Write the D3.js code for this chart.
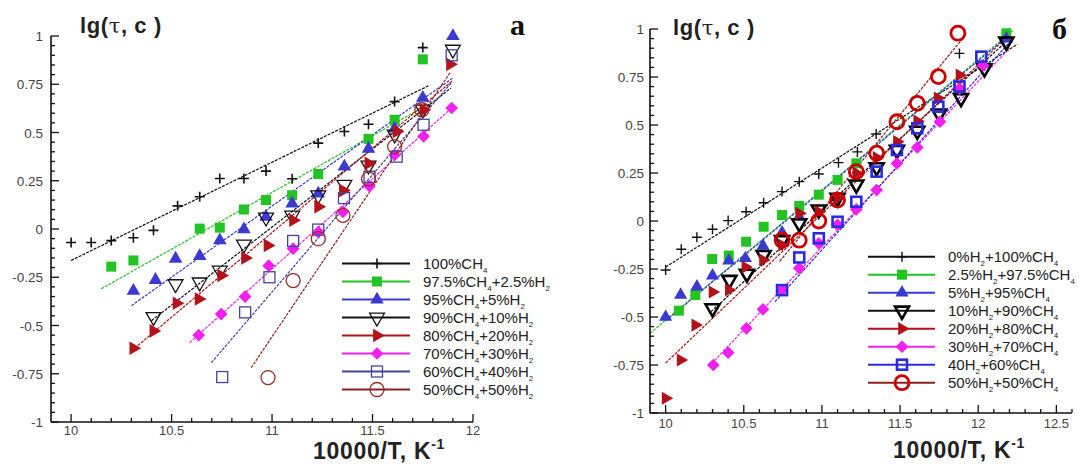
<!DOCTYPE html>
<html><head><meta charset="utf-8">
<script src="https://cdn.jsdelivr.net/npm/d3@7/dist/d3.min.js"></script>
<style>body{margin:0;background:#fff}svg{display:block}</style>
</head><body>
<svg id="c" width="1082" height="464"></svg>
<script>
// ---------- DATA ----------
const yTickValues = [-1, -0.75, -0.5, -0.25, 0, 0.25, 0.5, 0.75, 1];
const yTickLabels = ["-1", "-0.75", "-0.5", "-0.25", "0", "0.25", "0.5", "0.75", "1"];
const xTicksA = [10, 10.5, 11, 11.5, 12];
const xTickLabelsA = ["10", "10.5", "11", "11.5", "12"];
const xTicksB = [10, 10.5, 11, 11.5, 12, 12.5];
const xTickLabelsB = ["10", "10.5", "11", "11.5", "12", "12.5"];

const legendA = ["100%CH₄", "97.5%CH₄+2.5%H₂", "95%CH₄+5%H₂", "90%CH₄+10%H₂",
  "80%CH₄+20%H₂", "70%CH₄+30%H₂", "60%CH₄+40%H₂", "50%CH₄+50%H₂"];
const legendB = ["0%H₂+100%CH₄", "2.5%H₂+97.5%CH₄", "5%H₂+95%CH₄", "10%H₂+90%CH₄",
  "20%H₂+80%CH₄", "30%H₂+70%CH₄", "40H₂+60%CH₄", "50%H₂+50%CH₄"];

// panel а : points [x, y]
const a1 = [[10,-0.07],[10.1,-0.07],[10.2,-0.06],[10.31,-0.045],[10.41,-0.007],[10.53,0.12],[10.64,0.167],[10.74,0.262],[10.86,0.262],[10.97,0.3],[11.1,0.26],[11.23,0.445],[11.36,0.505],[11.48,0.543],[11.61,0.66],[11.75,0.94]];
const a2 = [[10.2,-0.195],[10.31,-0.163],[10.64,0.002],[10.74,0.007],[10.86,0.101],[10.97,0.15],[11.1,0.175],[11.23,0.285],[11.48,0.467],[11.61,0.566],[11.75,0.879]];
const a3 = [[10.31,-0.32],[10.42,-0.264],[10.52,-0.154],[10.64,-0.14],[10.74,-0.059],[10.86,-0.002],[10.97,0.063],[11.1,0.132],[11.23,0.184],[11.36,0.323],[11.48,0.415],[11.61,0.52],[11.75,0.68],[11.9,1.0]];
const a4 = [[10.41,-0.455],[10.52,-0.285],[10.64,-0.276],[10.74,-0.215],[10.86,-0.08],[10.97,0.06],[11.1,0.07],[11.23,0.175],[11.36,0.23],[11.48,0.33],[11.61,0.49],[11.75,0.62],[11.9,0.93]];
const a5 = [[10.31,-0.618],[10.41,-0.528],[10.525,-0.385],[10.635,-0.363],[10.747,-0.241],[10.866,-0.15],[10.978,-0.085],[11.105,0.045],[11.23,0.115],[11.353,0.2],[11.48,0.34],[11.62,0.505],[11.754,0.618],[11.886,0.853]];
const a6 = [[10.635,-0.55],[10.747,-0.441],[10.866,-0.35],[10.983,-0.19],[11.105,-0.102],[11.23,-0.016],[11.353,0.089],[11.485,0.222],[11.61,0.384],[11.754,0.48],[11.894,0.627]];
const a7 = [[10.752,-0.767],[10.866,-0.432],[10.987,-0.25],[11.105,-0.062],[11.23,-0.003],[11.358,0.16],[11.485,0.271],[11.62,0.375],[11.754,0.54],[11.894,0.9]];
const a8 = [[10.98,-0.77],[11.105,-0.267],[11.23,-0.05],[11.353,0.071],[11.48,0.26],[11.61,0.427],[11.745,0.618]];
// fitted lines [x0, y0, x1, y1]
const fitA = [[10,-0.163,11.78,0.743],[10.15,-0.31,11.75,0.63],[10.3,-0.397,11.9,0.783],[10.4,-0.475,11.89,0.73],
  [10.3,-0.632,11.9,0.77],[10.59,-0.589,11.894,0.627],[10.698,-0.693,11.894,0.76],[10.896,-0.719,11.886,0.81]];

// panel б
const b1 = [[10,-0.255],[10.1,-0.147],[10.2,-0.085],[10.3,-0.043],[10.4,0.002],[10.515,0.048],[10.627,0.095],[10.745,0.153],[10.855,0.205],[10.98,0.245],[11.106,0.304],[11.227,0.36],[11.347,0.453],[11.88,0.873]];
const b2 = [[10.085,-0.467],[10.19,-0.385],[10.298,-0.198],[10.404,-0.18],[10.515,-0.108],[10.627,-0.03],[10.745,0.031],[10.855,0.078],[10.98,0.137],[11.1,0.214],[11.22,0.3],[12.18,0.978]];
const b3 = [[10,-0.5],[10.096,-0.385],[10.2,-0.342],[10.3,-0.285],[10.404,-0.207],[10.51,-0.194],[10.623,-0.13],[10.745,-0.06],[10.855,0.022],[12.18,0.95]];
const b4 = [[10.3,-0.455],[10.408,-0.307],[10.52,-0.275],[10.627,-0.177],[10.745,-0.1],[10.855,-0.012],[10.98,0.06],[11.1,0.12],[11.22,0.19],[11.35,0.28],[11.48,0.37],[11.61,0.47],[11.75,0.56],[11.89,0.64],[12.04,0.795],[12.18,0.934]];
const b5 = [[10,-0.923],[10.096,-0.724],[10.19,-0.542],[10.3,-0.37],[10.404,-0.359],[10.51,-0.24],[10.623,-0.203],[10.745,-0.125],[10.855,0.04],[10.98,0.048],[11.1,0.118],[11.22,0.25],[11.35,0.33],[11.48,0.413],[11.61,0.52],[11.74,0.64],[11.88,0.76]];
const b6 = [[10.305,-0.75],[10.4,-0.686],[10.517,-0.559],[10.623,-0.46],[10.745,-0.36],[10.855,-0.246],[10.98,-0.116],[11.1,-0.02],[11.22,0.06],[11.35,0.161],[11.48,0.3],[11.61,0.383],[11.755,0.517],[11.88,0.69],[12.03,0.81]];
const b7 = [[10.745,-0.36],[10.855,-0.19],[10.98,-0.09],[11.1,-0.004],[11.22,0.1],[11.35,0.257],[11.48,0.37],[11.61,0.483],[11.745,0.595],[11.88,0.7],[12.02,0.856]];
const b8 = [[10.745,-0.1],[10.855,-0.1],[10.98,0.0],[11.1,0.109],[11.22,0.257],[11.35,0.353],[11.48,0.517],[11.61,0.613],[11.745,0.752],[11.87,0.978]];
const fitB = [[10,-0.24,12.25,0.92],[9.9,-0.585,12.22,0.99],[10,-0.52,12.2,0.97],[10.29,-0.472,12.2,0.95],
  [10,-0.74,12.2,0.97],[10.276,-0.759,12.2,0.9],[10.7,-0.42,12.2,0.93],[10.73,-0.21,11.9,0.95]];

// ---------- STYLES ----------
const stylesA = [
  {type:"plus", color:"#111", s:5, w:1.6},
  {type:"square", color:"#22c322", s:10},
  {type:"triUp", color:"#3a3ad0", s:80},
  {type:"triDown", color:"#111", s:95, w:1.3},
  {type:"triRight", color:"#b3121a", s:80},
  {type:"diamond", color:"#f21ff2", s:9},
  {type:"openSquare", color:"#44449a", s:11, w:1.3},
  {type:"circle", color:"#9a2a2a", s:7, w:1.3}
];
const lineColA = ["#111","#22c322","#3a3ad0","#111","#b3121a","#f21ff2","#44449a","#8a2020"];
const stylesB = [
  {type:"plus", color:"#111", s:5, w:1.4},
  {type:"square", color:"#22c322", s:10},
  {type:"triUp", color:"#3a3ad0", s:75},
  {type:"triDown", color:"#000", s:85, w:2.6},
  {type:"triRight", color:"#b3121a", s:75},
  {type:"diamond", color:"#f21ff2", s:9},
  {type:"openSquare", color:"#2a2ae0", s:10, w:2.6},
  {type:"circle", color:"#cc0000", s:7, w:2.8}
];
const lineColB = ["#111","#22c322","#3a3ad0","#111","#b3121a","#f21ff2","#2a2ae0","#8a2020"];

const svg = d3.select("#c");
const FONT = "'Liberation Sans', Arial, sans-serif";

function marker(g, st, x, y) {
  const c = st.color;
  switch (st.type) {
    case "plus":
      g.append("path").attr("d", `M${x-st.s},${y}H${x+st.s}M${x},${y-st.s}V${y+st.s}`)
        .attr("stroke", c).attr("stroke-width", st.w).attr("fill", "none"); break;
    case "square":
      g.append("rect").attr("x", x-st.s/2).attr("y", y-st.s/2).attr("width", st.s).attr("height", st.s).attr("fill", c); break;
    case "openSquare":
      g.append("rect").attr("x", x-st.s/2).attr("y", y-st.s/2).attr("width", st.s).attr("height", st.s)
        .attr("fill", "none").attr("stroke", c).attr("stroke-width", st.w); break;
    case "diamond":
      g.append("rect").attr("x", -st.s/2).attr("y", -st.s/2).attr("width", st.s).attr("height", st.s)
        .attr("transform", `translate(${x},${y}) rotate(45)`).attr("fill", c); break;
    case "triUp":
      g.append("path").attr("d", d3.symbol(d3.symbolTriangle, st.s)()).attr("transform", `translate(${x},${y})`).attr("fill", c); break;
    case "triRight":
      g.append("path").attr("d", d3.symbol(d3.symbolTriangle, st.s)()).attr("transform", `translate(${x},${y}) rotate(90)`).attr("fill", c); break;
    case "triDown":
      g.append("path").attr("d", d3.symbol(d3.symbolTriangle, st.s)()).attr("transform", `translate(${x},${y}) rotate(180)`)
        .attr("fill", "none").attr("stroke", c).attr("stroke-width", st.w); break;
    case "circle":
      g.append("circle").attr("cx", x).attr("cy", y).attr("r", st.s).attr("fill", "none").attr("stroke", c).attr("stroke-width", st.w); break;
  }
}

function richText(sel, label) {
  const parts = label.split(/([₂₄])/);
  let shifted = false;
  parts.forEach(p => {
    if (!p) return;
    if (p === "₂" || p === "₄") {
      sel.append("tspan").attr("font-size", 8).attr("dy", 4).text(p === "₂" ? "2" : "4");
      shifted = true;
    } else {
      sel.append("tspan").attr("dy", shifted ? -4 : 0).text(p);
      shifted = false;
    }
  });
}

function panel(cfg) {
  const g = svg.append("g");
  const x = d3.scaleLinear().domain(cfg.xDomain).range(cfg.xRange);
  const y = d3.scaleLinear().domain([-1, 1]).range(cfg.yRange);

  cfg.fits.forEach((f, i) => {
    g.append("line").attr("x1", x(f[0])).attr("y1", y(f[1])).attr("x2", x(f[2])).attr("y2", y(f[3]))
      .attr("stroke", cfg.lineCols[i]).attr("stroke-width", 1.2).attr("stroke-dasharray", "3,1.2");
  });
  cfg.series.forEach((s, i) => {
    const mg = g.append("g");
    s.forEach(p => marker(mg, cfg.styles[i], x(p[0]), y(p[1])));
  });

  const x0 = cfg.xRange[0], yb = cfg.yRange[0];
  const ax = g.append("g").attr("stroke", "#111").attr("stroke-width", 1.6);
  ax.append("line").attr("x1", x0).attr("y1", cfg.yRange[1]).attr("x2", x0).attr("y2", yb);
  ax.append("line").attr("x1", x0).attr("y1", yb).attr("x2", cfg.xRange[1]).attr("y2", yb);
  const yMinor = d3.range(-1, 1.0001, 0.05);
  yMinor.forEach(v => {
    const major = yTickValues.some(t => Math.abs(t - v) < 1e-6);
    ax.append("line").attr("x1", x0).attr("x2", x0 + (major ? 8 : 4)).attr("y1", y(v)).attr("y2", y(v)).attr("stroke-width", 1.3);
  });
  const xMinor = d3.range(10, cfg.xDomain[1] + 0.0001, 0.1);
  xMinor.forEach(v => {
    const major = cfg.xTicks.some(t => Math.abs(t - v) < 1e-6);
    ax.append("line").attr("y1", yb).attr("y2", yb - (major ? 8 : 4)).attr("x1", x(v)).attr("x2", x(v)).attr("stroke-width", 1.3);
  });
  yTickValues.forEach((v, i) => {
    g.append("text").attr("x", x0 - cfg.yLabGap).attr("y", y(v) + 5).attr("text-anchor", "end")
      .attr("font-family", FONT).attr("font-size", 13.5).attr("fill", "#444").text(yTickLabels[i]);
  });
  cfg.xTicks.forEach((v, i) => {
    g.append("text").attr("x", x(v)).attr("y", yb + cfg.xLabDy).attr("text-anchor", "middle")
      .attr("font-family", FONT).attr("font-size", 13).attr("fill", "#444").text(cfg.xTickLabels[i]);
  });

  const yt = g.append("text").attr("x", cfg.yTitle[0]).attr("y", cfg.yTitle[1]).attr("font-family", FONT)
    .attr("font-size", 22).attr("font-weight", "bold").attr("fill", "#222").attr("letter-spacing", 0.6);
  yt.append("tspan").text("lg(");
  yt.append("tspan").attr("font-family", "'DejaVu Serif', serif").attr("font-weight", "normal").attr("font-size", 21).text("τ");
  yt.append("tspan").text(", c )");
  const xt = g.append("text").attr("x", cfg.xTitle[0]).attr("y", cfg.xTitle[1]).attr("font-family", FONT)
    .attr("font-size", 23).attr("font-weight", "bold").attr("fill", "#222").attr("letter-spacing", 0.7);
  xt.append("tspan").text("10000/T, K");
  xt.append("tspan").attr("font-size", 14).attr("dy", -10).text("-1");
  g.append("text").attr("x", cfg.letter[0]).attr("y", cfg.letter[1]).attr("font-family", "'Liberation Serif', serif")
    .attr("font-size", 30).attr("font-weight", "bold").attr("fill", "#111").text(cfg.letter[2]);

  cfg.legend.forEach((lab, i) => {
    const ly = cfg.legPos.y0 + i * cfg.legPos.dy;
    g.append("line").attr("x1", cfg.legPos.x1).attr("x2", cfg.legPos.x2).attr("y1", ly).attr("y2", ly)
      .attr("stroke", cfg.lineCols[i]).attr("stroke-width", 2);
    const lg = g.append("g");
    marker(lg, cfg.styles[i], cfg.legPos.xm, ly);
    const t = g.append("text").attr("x", cfg.legPos.xt).attr("y", ly + 5).attr("font-family", FONT)
      .attr("font-size", 15).attr("fill", "#222");
    richText(t, lab);
  });
}

panel({
  xDomain: [9.9, 12], xRange: [51, 473], yRange: [422, 36],
  xTicks: xTicksA, xTickLabels: xTickLabelsA,
  series: [a1, a2, a3, a4, a5, a6, a7, a8], fits: fitA,
  styles: stylesA, lineCols: lineColA, legend: legendA,
  legPos: {y0: 263.5, dy: 18, x1: 342, x2: 410, xm: 377, xt: 423},
  yLabGap: 8, xLabDy: 13,
  yTitle: [80, 33], xTitle: [313, 459], letter: [510, 35, "а"]
});
panel({
  xDomain: [9.9, 12.6], xRange: [650, 1072], yRange: [413, 29],
  xTicks: xTicksB, xTickLabels: xTickLabelsB,
  series: [b1, b2, b3, b4, b5, b6, b7, b8], fits: fitB,
  styles: stylesB, lineCols: lineColB, legend: legendB,
  legPos: {y0: 256.7, dy: 18, x1: 868, x2: 935, xm: 902, xt: 948},
  yLabGap: 6, xLabDy: 15,
  yTitle: [673, 35], xTitle: [893, 458], letter: [1052, 39, "б"]
});
</script>
</body></html>
